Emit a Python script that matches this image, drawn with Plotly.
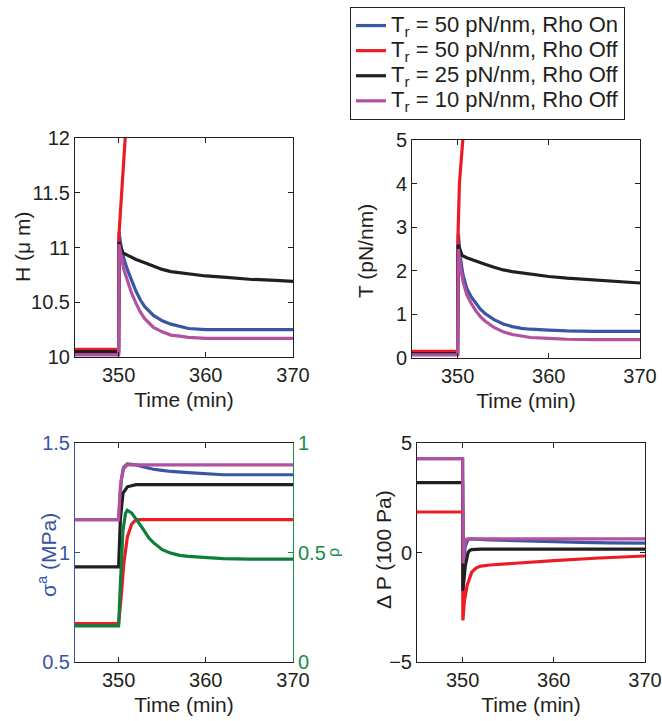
import plotly.graph_objects as go

W, H = 662, 721
FONT = "Liberation Sans, Arial, Helvetica, sans-serif"

C_BLUE = "#3B55A5"
C_RED = "#EC1C24"
C_BLACK = "#231F20"
C_MAG = "#B2519E"
C_GREEN = "#0E7F3B"
C_AX = "#231F20"
C_BLUE_TXT = "#3953A4"
C_GREEN_TXT = "#168C48"

legend_labels = [
    "T<sub>r</sub> = 50 pN/nm, Rho On",
    "T<sub>r</sub> = 50 pN/nm, Rho Off",
    "T<sub>r</sub> = 25 pN/nm, Rho Off",
    "T<sub>r</sub> = 10 pN/nm, Rho Off",
]

# ---------------- Panel 1: H (um) ----------------
h_blue_t = [345, 350, 350.05, 350.3, 350.6, 351, 351.5, 352, 352.5, 353, 354, 355, 356, 357, 358, 360, 365, 370]
h_blue_v = [10.03, 10.03, 11.14, 11.0, 10.9, 10.8, 10.7, 10.6, 10.52, 10.46, 10.38, 10.33, 10.3, 10.28, 10.26, 10.25, 10.25, 10.25]
h_red_t = [345, 350, 350.03, 350.4, 350.75, 351]
h_red_v = [10.07, 10.07, 11.1, 11.6, 12.0, 12.3]
h_black_t = [345, 350, 350.05, 350.5, 351, 352, 353, 354, 355, 356, 358, 360, 362, 365, 368, 370]
h_black_v = [10.05, 10.05, 11.05, 10.95, 10.93, 10.89, 10.86, 10.83, 10.8, 10.78, 10.76, 10.74, 10.73, 10.71, 10.7, 10.69]
h_mag_t = [345, 350, 350.05, 350.3, 350.6, 351, 351.5, 352, 352.5, 353, 354, 355, 356, 357, 358, 360, 365, 370]
h_mag_v = [10.02, 10.02, 11.03, 10.92, 10.8, 10.7, 10.58, 10.49, 10.41, 10.35, 10.27, 10.23, 10.2, 10.19, 10.18, 10.17, 10.17, 10.17]

# ---------------- Panel 2: T (pN/nm) ----------------
t_blue_t = [345, 350, 350.08, 350.3, 350.6, 351, 351.5, 352, 352.5, 353, 354, 355, 356, 357, 358, 360, 362, 365, 370]
t_blue_v = [0.08, 0.08, 2.85, 2.3, 1.9, 1.6, 1.4, 1.25, 1.12, 1.02, 0.88, 0.78, 0.72, 0.68, 0.66, 0.64, 0.62, 0.61, 0.61]
t_red_t = [345, 350, 350.03, 350.2, 350.57, 351]
t_red_v = [0.15, 0.15, 2.7, 4.0, 5.0, 6.6]
t_black_t = [345, 350, 350.05, 350.5, 351, 352, 353, 354, 355, 356, 358, 360, 362, 365, 368, 370]
t_black_v = [0.1, 0.1, 2.6, 2.35, 2.3, 2.22, 2.15, 2.08, 2.02, 1.98, 1.92, 1.87, 1.83, 1.79, 1.75, 1.72]
t_mag_t = [345, 350, 350.08, 350.3, 350.6, 351, 351.5, 352, 352.5, 353, 354, 355, 356, 357, 358, 360, 362, 365, 370]
t_mag_v = [0.07, 0.07, 2.5, 2.1, 1.75, 1.45, 1.25, 1.08, 0.95, 0.85, 0.7, 0.6, 0.54, 0.5, 0.47, 0.45, 0.43, 0.42, 0.42]

# ---------------- Panel 3: sigma^a (MPa) and rho ----------------
s_blue_t = [345, 350, 350.3, 350.6, 351, 352, 353, 354, 355, 356, 358, 360, 362, 365, 370]
s_blue_v = [1.15, 1.15, 1.33, 1.39, 1.405, 1.40, 1.39, 1.38, 1.375, 1.37, 1.365, 1.36, 1.355, 1.355, 1.355]
s_red_t = [345, 350, 350.3, 350.6, 351, 351.5, 352, 370]
s_red_v = [0.675, 0.675, 0.8, 0.95, 1.07, 1.13, 1.15, 1.15]
s_black_t = [345, 350, 350.2, 350.5, 351, 352, 370]
s_black_v = [0.934, 0.934, 1.15, 1.27, 1.30, 1.31, 1.31]
s_mag_t = [345, 350, 350.2, 350.5, 351, 370]
s_mag_v = [1.15, 1.15, 1.3, 1.38, 1.40, 1.40]
rho_t = [345, 350, 350.2, 350.5, 350.8, 351.0, 351.5, 352, 352.5, 353, 353.5, 354, 355, 356, 357, 358, 360, 362, 365, 370]
rho_v = [0.165, 0.165, 0.35, 0.6, 0.68, 0.693, 0.68, 0.655, 0.625, 0.595, 0.565, 0.545, 0.513, 0.497, 0.487, 0.482, 0.476, 0.472, 0.47, 0.47]

# ---------------- Panel 4: Delta P (100 Pa) ----------------
p_blue_t = [345, 350, 350.05, 350.3, 350.6, 351, 353, 355, 358, 360, 363, 366, 370]
p_blue_v = [4.28, 4.28, -0.6, 0.3, 0.6, 0.62, 0.58, 0.55, 0.5, 0.48, 0.46, 0.44, 0.43]
p_red_t = [345, 350, 350.03, 350.2, 350.5, 351, 351.5, 352, 353, 355, 360, 365, 370]
p_red_v = [1.85, 1.85, -3.1, -2.2, -1.5, -0.9, -0.7, -0.62, -0.57, -0.51, -0.37, -0.25, -0.16]
p_black_t = [345, 350, 350.03, 350.3, 350.6, 350.8, 351, 352, 370]
p_black_v = [3.19, 3.19, -1.75, -0.6, 0.0, 0.1, 0.13, 0.15, 0.15]
p_mag_t = [345, 350, 350.05, 350.2, 350.4, 350.6, 370]
p_mag_v = [4.28, 4.28, -0.5, 0.3, 0.6, 0.62, 0.62]

x_ticks = [350, 360, 370]


def px_x(p):
    return p / W


def px_y(p):
    return 1 - p / H


fig = go.Figure()
LW = 3.2

panels = [
    ("x", "y", [(h_blue_t, h_blue_v), (h_red_t, h_red_v), (h_black_t, h_black_v), (h_mag_t, h_mag_v)]),
    ("x2", "y2", [(t_blue_t, t_blue_v), (t_red_t, t_red_v), (t_black_t, t_black_v), (t_mag_t, t_mag_v)]),
    ("x3", "y3", [(s_blue_t, s_blue_v), (s_red_t, s_red_v), (s_black_t, s_black_v), (s_mag_t, s_mag_v)]),
    ("x4", "y5", [(p_blue_t, p_blue_v), (p_red_t, p_red_v), (p_black_t, p_black_v), (p_mag_t, p_mag_v)]),
]
colors = [C_BLUE, C_RED, C_BLACK, C_MAG]

for pi, (xa, ya, series) in enumerate(panels):
    for si, (tt, vv) in enumerate(series):
        fig.add_trace(go.Scatter(
            x=tt, y=vv, xaxis=xa, yaxis=ya, mode="lines",
            line=dict(color=colors[si], width=LW),
            name="<span style='font-size:22px'>" + legend_labels[si] + "</span>",
            showlegend=(pi == 0), cliponaxis=True,
        ))
    if pi == 2:
        fig.add_trace(go.Scatter(
            x=rho_t, y=rho_v, xaxis="x3", yaxis="y4", mode="lines",
            line=dict(color=C_GREEN, width=LW), showlegend=False, name="rho",
        ))

tickfont = dict(family=FONT, size=20, color=C_AX)
titlefont = dict(family=FONT, size=21, color=C_AX)


def xax(dom, anchor):
    return dict(
        domain=dom, anchor=anchor, range=[345, 370], tickvals=x_ticks,
        ticks="inside", ticklen=5, tickcolor=C_AX, showline=True, linecolor=C_AX,
        linewidth=1, mirror="ticks", showgrid=False, zeroline=False,
        tickfont=tickfont, automargin=False,
        title=dict(text="Time (min)", font=titlefont, standoff=7),
    )


def yax(dom, anchor, rng, tv, color=C_AX, mirror="ticks", side="left"):
    return dict(
        domain=dom, anchor=anchor, range=rng, tickvals=tv,
        ticks="inside", ticklen=5, tickcolor=color, showline=True, linecolor=color,
        linewidth=1, mirror=mirror, showgrid=False, zeroline=False, side=side,
        tickfont=dict(family=FONT, size=20, color=color), automargin=False,
    )


TLx = [px_x(75), px_x(293)]
TRx = [px_x(412), px_x(640)]
BLx = [px_x(75), px_x(293)]
BRx = [px_x(417), px_x(645)]
TLy = [px_y(357), px_y(138)]
TRy = [px_y(358), px_y(140)]
By = [px_y(662), px_y(443)]

fig.update_layout(
    width=W, height=H, autosize=False, template="none",
    margin=dict(l=0, r=0, t=0, b=0),
    paper_bgcolor="white", plot_bgcolor="white",
    font=dict(family=FONT, color=C_AX),
    xaxis=xax(TLx, "y"),
    yaxis=yax(TLy, "x", [10, 12], [10, 10.5, 11, 11.5, 12]),
    xaxis2=xax(TRx, "y2"),
    yaxis2=yax(TRy, "x2", [0, 5], [0, 1, 2, 3, 4, 5]),
    xaxis3=xax(BLx, "y3"),
    yaxis3=yax(By, "x3", [0.5, 1.5], [0.5, 1, 1.5], color=C_BLUE_TXT, mirror=False),
    yaxis4=dict(yax(By, "x3", [0, 1], [0, 0.5, 1], color=C_GREEN_TXT, mirror=False, side="right"),
                overlaying="y3"),
    xaxis4=xax(BRx, "y5"),
    yaxis5=yax(By, "x4", [-5, 5], [-5, 0, 5]),
    showlegend=True,
    legend=dict(
        x=px_x(350), y=px_y(7), xanchor="left", yanchor="top",
        bgcolor="white", bordercolor=C_AX, borderwidth=1,
        font=dict(family=FONT, size=17, color=C_AX),
        tracegroupgap=0,
    ),
)

ann = [
    ("H (μ m)", 22, 247, C_AX, 21),
    ("T (pN/nm)", 365, 251, C_AX, 21),
    ("σ<sup>a</sup> (MPa)", 47, 555, C_BLUE_TXT, 21),
    ("Δ P (100 Pa)", 383, 550, C_AX, 21),
    ("ρ", 333, 553, C_GREEN_TXT, 16),
]
for text, x, y, col, sz in ann:
    fig.add_annotation(
        text=text, x=px_x(x), y=px_y(y), xref="paper", yref="paper",
        xanchor="center", yanchor="middle", textangle=-90, showarrow=False,
        font=dict(family=FONT, size=sz, color=col),
    )

fig.write_html(
    "out.html",
    config={"displayModeBar": False},
    post_script="document.body.style.margin='0';document.body.style.overflow='hidden';",
)
